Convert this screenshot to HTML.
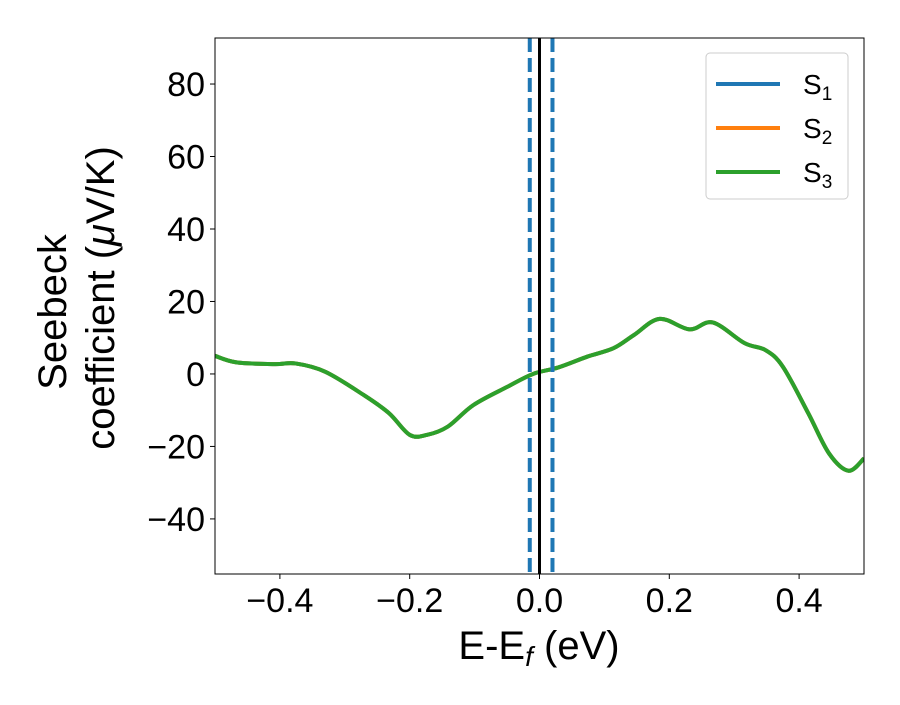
<!DOCTYPE html>
<html><head><meta charset="utf-8"><style>
body{margin:0;background:#fff;}
svg text{font-family:"Liberation Sans",sans-serif;fill:#000;}
</style></head><body>
<svg width="900" height="700" viewBox="0 0 900 700">
<g id="plot"></g>
<g id="axes"></g>
<g>
<rect x="706" y="53" width="142" height="146" rx="4" fill="#fff" stroke="#ccc" stroke-width="1"/>
<g><line x1="716" y1="84" x2="780" y2="84" stroke="#1f77b4" stroke-width="4"/><text x="803" y="94" font-size="28">S<tspan font-size="19" dy="6">1</tspan></text></g>
<g><line x1="716" y1="128" x2="780" y2="128" stroke="#ff7f0e" stroke-width="4"/><text x="803" y="138" font-size="28">S<tspan font-size="19" dy="6">2</tspan></text></g>
<g><line x1="716" y1="172" x2="780" y2="172" stroke="#2ca02c" stroke-width="4"/><text x="803" y="182" font-size="28">S<tspan font-size="19" dy="6">3</tspan></text></g>
</g>
<text x="539" y="659" font-size="40" text-anchor="middle">E-E<tspan font-style="italic" font-size="28" dy="7">f</tspan><tspan dy="-7"> (eV)</tspan></text>
<text transform="translate(66,312) rotate(-90)" font-size="40" text-anchor="middle">Seebeck</text>
<text transform="translate(114,298) rotate(-90)" font-size="40" text-anchor="middle">coefficient  (<tspan font-style="italic">μ</tspan>V/K)</text>
</svg>
<script>
const xs=[-0.5,-0.467,-0.408,-0.376,-0.33,-0.271,-0.232,-0.2,-0.173,-0.141,-0.102,-0.049,-0.01,0.029,0.074,0.114,0.146,0.185,0.231,0.267,0.316,0.348,0.375,0.414,0.446,0.476,0.5];
const s3=[5.0,3.2,2.7,2.9,0.6,-5.8,-10.8,-16.8,-16.8,-14.5,-8.6,-3.5,0,1.8,4.8,7.1,10.8,15.2,12.3,14.2,8.5,6.6,2.0,-10.8,-21.9,-26.7,-23.3];
const s1=s3.slice(), s2=s3.slice();
const vlinesDashed=[-0.015,0.02];
const vlineSolid=[0];
const xTicks=[-0.4,-0.2,0.0,0.2,0.4];
const xTickLabels=["\u22120.4","\u22120.2","0.0","0.2","0.4"];
const yTicks=[-40,-20,0,20,40,60,80];
const yTickLabels=["\u221240","\u221220","0","20","40","60","80"];
const L=215,R=864,T=38,B=574,xmin=-0.5,xmax=0.5,ymin=-55.2,ymax=92.7;
const X=v=>L+(v-xmin)/(xmax-xmin)*(R-L);
const Y=v=>B-(v-ymin)/(ymax-ymin)*(B-T);
const NS="http://www.w3.org/2000/svg";
const plot=document.getElementById('plot'),axes=document.getElementById('axes');
function mk(t,a,p){const e=document.createElementNS(NS,t);for(const k in a)e.setAttribute(k,a[k]);p.appendChild(e);return e;}
function smooth(d){const P=xs.map((x,i)=>[X(x),Y(d[i])]);let s='M'+P[0][0]+','+P[0][1];
 for(let i=0;i<P.length-1;i++){const p0=P[i-1]||P[i],p1=P[i],p2=P[i+1],p3=P[i+2]||P[i+1];
 const c1=[p1[0]+(p2[0]-p0[0])/6,p1[1]+(p2[1]-p0[1])/6],c2=[p2[0]-(p3[0]-p1[0])/6,p2[1]-(p3[1]-p1[1])/6];
 s+=' C'+c1+' '+c2+' '+p2;}return s;}
const cp=mk('clipPath',{id:'cp'},plot);mk('rect',{x:L,y:T,width:R-L,height:B-T},cp);
const g=mk('g',{'clip-path':'url(#cp)'},plot);
[[s1,'#1f77b4','series-s1'],[s2,'#ff7f0e','series-s2'],[s3,'#2ca02c','series-s3']].forEach(([d,c,n])=>{
 const p=mk('path',{d:smooth(d),fill:'none',stroke:c,'stroke-width':4,'stroke-linejoin':'round'},g);
 
 
});
vlinesDashed.forEach(v=>{const l=mk('line',{x1:X(v),x2:X(v),y1:T,y2:B,stroke:'#1f77b4','stroke-width':4,'stroke-dasharray':'14 6'},g);
 
 });
vlineSolid.forEach(v=>{const l=mk('line',{x1:X(v),x2:X(v),y1:T,y2:B,stroke:'#000','stroke-width':3},g);
 
 });
const fr=mk('rect',{x:L,y:T,width:R-L,height:B-T,fill:'none',stroke:'#000','stroke-width':1},axes);


xTicks.forEach((v,i)=>{mk('line',{x1:X(v),x2:X(v),y1:B,y2:B+5,stroke:'#000'},axes);
 const t=mk('text',{x:X(v),y:B+38,'font-size':34,'text-anchor':'middle'},axes);t.textContent=xTickLabels[i];
 
 });
yTicks.forEach((v,i)=>{mk('line',{x1:L-5,x2:L,y1:Y(v),y2:Y(v),stroke:'#000'},axes);
 const t=mk('text',{x:L-10,y:Y(v)+12,'font-size':34,'text-anchor':'end'},axes);t.textContent=yTickLabels[i];
 
 });
</script>
</body></html>
